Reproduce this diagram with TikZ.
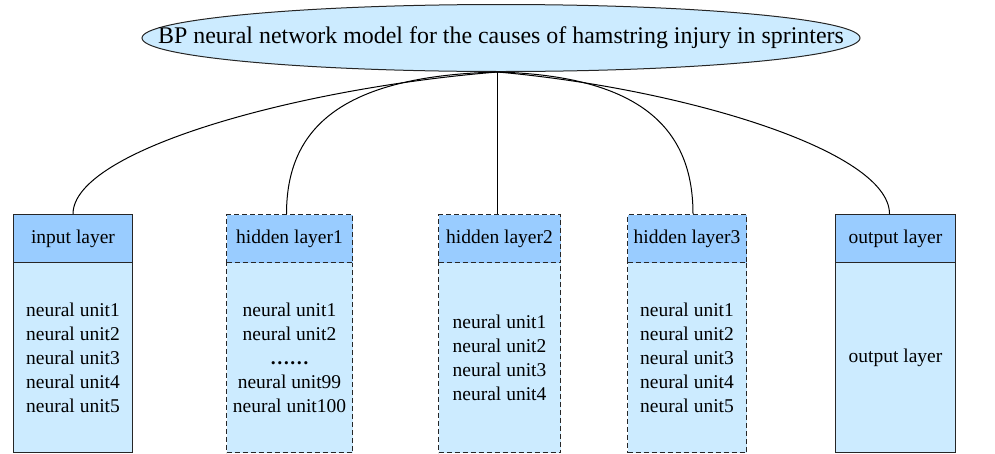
\documentclass[tikz,border=0pt]{standalone}
\usepackage{fontspec}
\setmainfont{LiberationSerif}[Extension=.ttf, UprightFont=*-Regular, BoldFont=*-Bold, ItalicFont=*-Italic, BoldItalicFont=*-BoldItalic]
\newfontfamily\tms{LiberationSerif}[Extension=.ttf, UprightFont=*-Regular, BoldFont=*-Bold, ItalicFont=*-Italic, BoldItalicFont=*-BoldItalic]
\usetikzlibrary{shapes.geometric}
\definecolor{hdr}{HTML}{99CCFF}
\definecolor{bdy}{HTML}{CCEBFF}
\begin{document}
\begin{tikzpicture}[x=1pt,y=-1pt,
  txt/.style={font=\tms\fontsize{19.5}{24}\selectfont},
  hdrbox/.style={txt, draw=black!85, line width=1pt, fill=hdr, minimum height=48pt, inner sep=0pt, anchor=north west},
  bdybox/.style={txt, draw=black!85, line width=1pt, fill=bdy, minimum height=190pt, inner sep=0pt, anchor=north west, align=center},
  dashbox/.style={dash pattern=on 5pt off 3pt},
  conn/.style={draw=black, line width=1pt}
  ]
\useasboundingbox (0,0) rectangle (995,453);
\node[ellipse, draw=black!85, line width=1pt, fill=bdy, minimum width=718pt, minimum height=67pt, inner sep=0pt] (top) at (501,38) {};
\node[inner sep=0pt, font=\tms\fontsize{23.9}{28}\selectfont] (title) at (top.center) {BP neural network model for the causes of hamstring injury in sprinters};

\node[bdybox, minimum width=119pt] (bin) at (13,262) {neural unit1\\neural unit2\\neural unit3\\neural unit4\\neural unit5};
\node[hdrbox, minimum width=119pt] (hin) at ([yshift=0pt]13,214) {input layer};

\node[bdybox, dashbox, minimum width=126pt] (b1) at (226,262) {neural unit1\\neural unit2\\\textbf{\ldots\ldots}\\neural unit99\\neural unit100};
\node[hdrbox, dashbox, minimum width=126pt] (h1) at (226,214) {hidden layer1};

\node[bdybox, dashbox, minimum width=122pt] (b2) at (438,262) {neural unit1\\neural unit2\\neural unit3\\neural unit4};
\node[hdrbox, dashbox, minimum width=122pt] (h2) at (438,214) {hidden layer2};

\node[bdybox, dashbox, minimum width=119pt] (b3) at (627,262) {neural unit1\\neural unit2\\neural unit3\\neural unit4\\neural unit5};
\node[hdrbox, dashbox, minimum width=119pt] (h3) at (627,214) {hidden layer3};

\node[bdybox, minimum width=120pt] (bout) at (835,262) {output layer};
\node[hdrbox, minimum width=120pt] (hout) at (835,214) {output layer};

\coordinate (c1) at ([xshift=-3pt]h1.north);
\coordinate (c2) at ([xshift=-2pt]h2.north);
\coordinate (c3) at ([xshift=6pt]h3.north);
\coordinate (c4) at ([xshift=-6pt]hout.north);
\coordinate (s) at (c2 |- top.south);
\draw[conn] (s) .. controls +(-199,16) and +(0,-64) .. (hin.north);
\draw[conn] (s) .. controls +(-159,4) and +(0,-84) .. (c1);
\draw[conn] (s) -- (c2);
\draw[conn] (s) .. controls +(145,4) and +(0,-84) .. (c3);
\draw[conn] (s) .. controls +(182,16) and +(0,-64) .. (c4);
\end{tikzpicture}
\end{document}
